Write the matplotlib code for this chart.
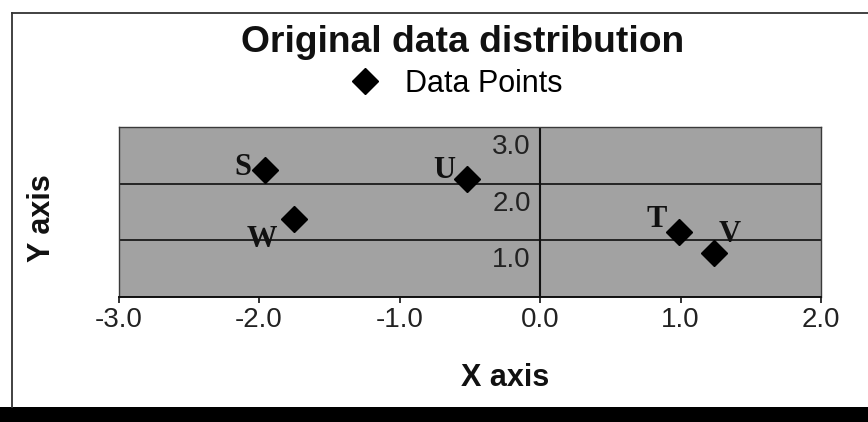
import matplotlib
matplotlib.use("Agg")
import matplotlib.pyplot as plt
from matplotlib.lines import Line2D
from matplotlib.patches import Rectangle
from matplotlib.transforms import ScaledTranslation

# ---- data ----
point_names = ["S", "W", "U", "T", "V"]
x_values = [-1.96, -1.75, -0.52, 0.99, 1.24]
y_values = [2.24, 1.38, 2.09, 1.15, 0.78]
x_ticks = [-3.0, -2.0, -1.0, 0.0, 1.0, 2.0]
x_tick_labels = ["-3.0", "-2.0", "-1.0", "0.0", "1.0", "2.0"]
y_ticks = [1.0, 2.0, 3.0]
y_tick_labels = ["1.0", "2.0", "3.0"]
title = "Original data distribution"
series_name = "Data Points"
x_label = "X axis"
y_label = "Y axis"

# label offsets (points) relative to each marker
label_offsets = {"S": (-16, 2), "W": (-23, -15), "U": (-16, 6), "T": (-16, 9), "V": (11, 13)}

W, H, DPI = 868, 422, 100
fig = plt.figure(figsize=(W / DPI, H / DPI), dpi=DPI)
fig.patch.set_facecolor("white")

sans = "Liberation Sans"
serif = "Liberation Serif"

ax = fig.add_axes([118.5 / W, 125 / H, 702.5 / W, 170 / H])
ax.set_facecolor("#a2a2a2")
ax.set_xlim(-3, 2)
ax.set_ylim(0, 3)

# gridlines
ax.set_yticks([0.0] + y_ticks)
ax.yaxis.grid(True, color="#1a1a1a", linewidth=1.3)
ax.set_axisbelow(True)
ax.tick_params(axis="y", length=0, labelleft=False)

# x axis ticks
ax.set_xticks(x_ticks)
ax.set_xticklabels(x_tick_labels, fontfamily=sans, fontsize=20, color="#222222")
ax.tick_params(axis="x", direction="out", length=4, width=1.2, pad=3.5, color="#111111")

for side in ["top", "right", "left"]:
    ax.spines[side].set_color("#3a3a3a")
    ax.spines[side].set_linewidth(1.0)
ax.spines["bottom"].set_color("#111111")
ax.spines["bottom"].set_linewidth(1.4)

# vertical axis at x = 0
ax.axvline(0, color="#111111", linewidth=1.5, zorder=2)

# y tick labels beside the x=0 axis
off = ScaledTranslation(-9 / DPI, -7 / DPI, fig.dpi_scale_trans)
for v, lab in zip(y_ticks, y_tick_labels):
    ax.text(0, v, lab, transform=ax.transData + off, ha="right", va="top",
            fontfamily=sans, fontsize=20, color="#222222")

# data points
ax.plot(x_values, y_values, linestyle="none", marker="D", markersize=13,
        color="black", zorder=5, label=series_name, clip_on=False)

for name, xv, yv in zip(point_names, x_values, y_values):
    dx, dy = label_offsets[name]
    ax.annotate(name, (xv, yv), xytext=(dx, dy), textcoords="offset points",
                ha="center", va="center", fontfamily=serif, fontweight="bold",
                fontsize=22, color="#111111", zorder=6)

# title and legend
fig.text(463 / W, 1 - 42 / H, title, ha="center", va="center",
         fontfamily=sans, fontweight="bold", fontsize=26.8, color="#111111")
handle = Line2D([], [], linestyle="none", marker="D", markersize=13, color="black")
fig.legend([handle], [series_name], loc="center", bbox_to_anchor=(456 / W, 1 - 84 / H),
           frameon=False, handlelength=1.0, handletextpad=0.8,
           prop={"family": sans, "size": 22})

# axis titles
fig.text(505 / W, 1 - 378 / H, x_label, ha="center", va="center",
         fontfamily=sans, fontweight="bold", fontsize=22, color="#111111")
fig.text(42 / W, 1 - 218 / H, y_label, ha="center", va="center", rotation=90,
         fontfamily=sans, fontweight="bold", fontsize=22, color="#111111")

# outer frame and bottom black band
fig.add_artist(Line2D([12 / W, 12 / W], [1 - 407 / H, 1 - 13 / H], transform=fig.transFigure,
                      color="#333333", linewidth=1.3))
fig.add_artist(Line2D([12 / W, 1.0], [1 - 13 / H, 1 - 13 / H], transform=fig.transFigure,
                      color="#333333", linewidth=1.3))
fig.add_artist(Rectangle((0, 0), 1, 15 / H, transform=fig.transFigure,
                         facecolor="black", edgecolor="none"))

fig.savefig("out.png", dpi=DPI)
